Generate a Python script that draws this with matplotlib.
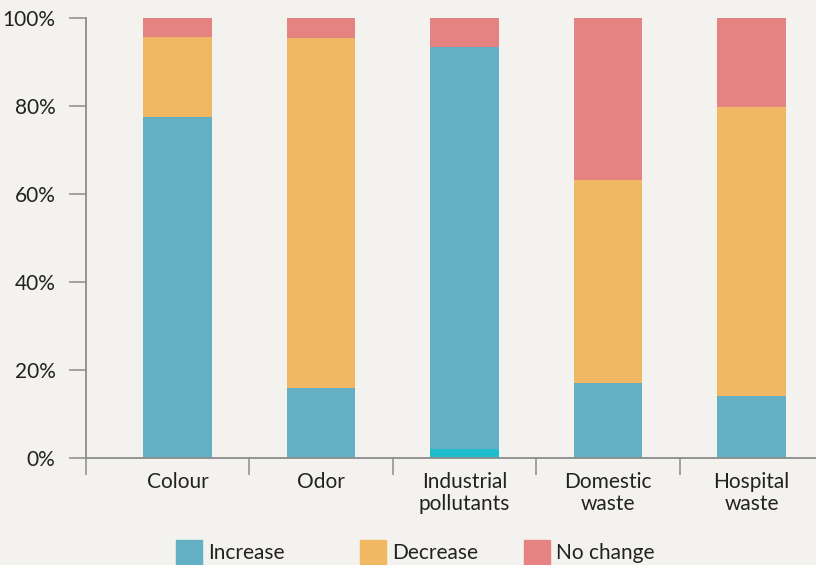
import matplotlib.pyplot as plt
from matplotlib.patches import Rectangle

# data (percent of respondents)
categories = ['Colour', 'Odor', 'Industrial\npollutants', 'Domestic\nwaste', 'Hospital\nwaste']
other = [0, 0, 2.0, 0, 0]            # small unlabelled segment at the base
increase = [77.5, 15.9, 91.4, 17.0, 14.2]
decrease = [18.2, 79.6, 0, 46.2, 65.6]
no_change = [4.3, 4.5, 6.6, 36.8, 20.2]
legend_labels = ['Increase', 'Decrease', 'No change']

c_other = '#1fbdcc'
c_inc = '#63afc4'
c_dec = '#f0b862'
c_no = '#e58282'
bg = '#f4f2ee'
grey = '#8c8c8c'

plt.rcParams['font.family'] = ['Lato', 'DejaVu Sans']

W, H = 816, 565
fig = plt.figure(figsize=(W / 100, H / 100), dpi=100, facecolor=bg)
ax = fig.add_axes([86 / W, 1 - 458 / H, (W - 86) / W, (458 - 18) / H])
ax.set_facecolor(bg)

x = list(range(len(categories)))
bw = 0.48
b1 = other
b2 = [a + b for a, b in zip(b1, increase)]
b3 = [a + b for a, b in zip(b2, decrease)]
ax.bar(x, other, bw, color=c_other)
ax.bar(x, increase, bw, bottom=b1, color=c_inc)
ax.bar(x, decrease, bw, bottom=b2, color=c_dec)
ax.bar(x, no_change, bw, bottom=b3, color=c_no)

left = -0.638
ax.set_xlim(left, left + (W - 86) / 143.5)
ax.set_ylim(0, 100)

for s in ['top', 'right']:
    ax.spines[s].set_visible(False)
for s in ['left', 'bottom']:
    ax.spines[s].set_color(grey)
    ax.spines[s].set_linewidth(1.3)

ax.set_yticks(range(0, 101, 20))
ax.set_yticklabels([f'{v}%' for v in range(0, 101, 20)])
ax.tick_params(axis='y', length=12, width=1.1, color=grey, pad=10,
               labelsize=15, labelcolor='#222222')

ax.set_xticks(x)
ax.set_xticklabels(categories, fontsize=15, color='#222222', linespacing=1.15)
ax.tick_params(axis='x', which='major', length=0, pad=10)
ax.set_xticks([left, 0.5, 1.5, 2.5, 3.5], minor=True)
ax.tick_params(axis='x', which='minor', length=12, width=1.1, color=grey)

# legend drawn along the bottom edge, partly cut off like the reference
for px, label, col in zip([176, 360, 524], legend_labels, [c_inc, c_dec, c_no]):
    fig.patches.append(Rectangle((px / W, 0), 26 / W, (565 - 540) / H,
                                 transform=fig.transFigure, color=col))
    fig.text((px + 32) / W, 1 - 553 / H, label, fontsize=15, color='#222222',
             va='center', ha='left')

fig.savefig('out.png', dpi=100, facecolor=bg)
